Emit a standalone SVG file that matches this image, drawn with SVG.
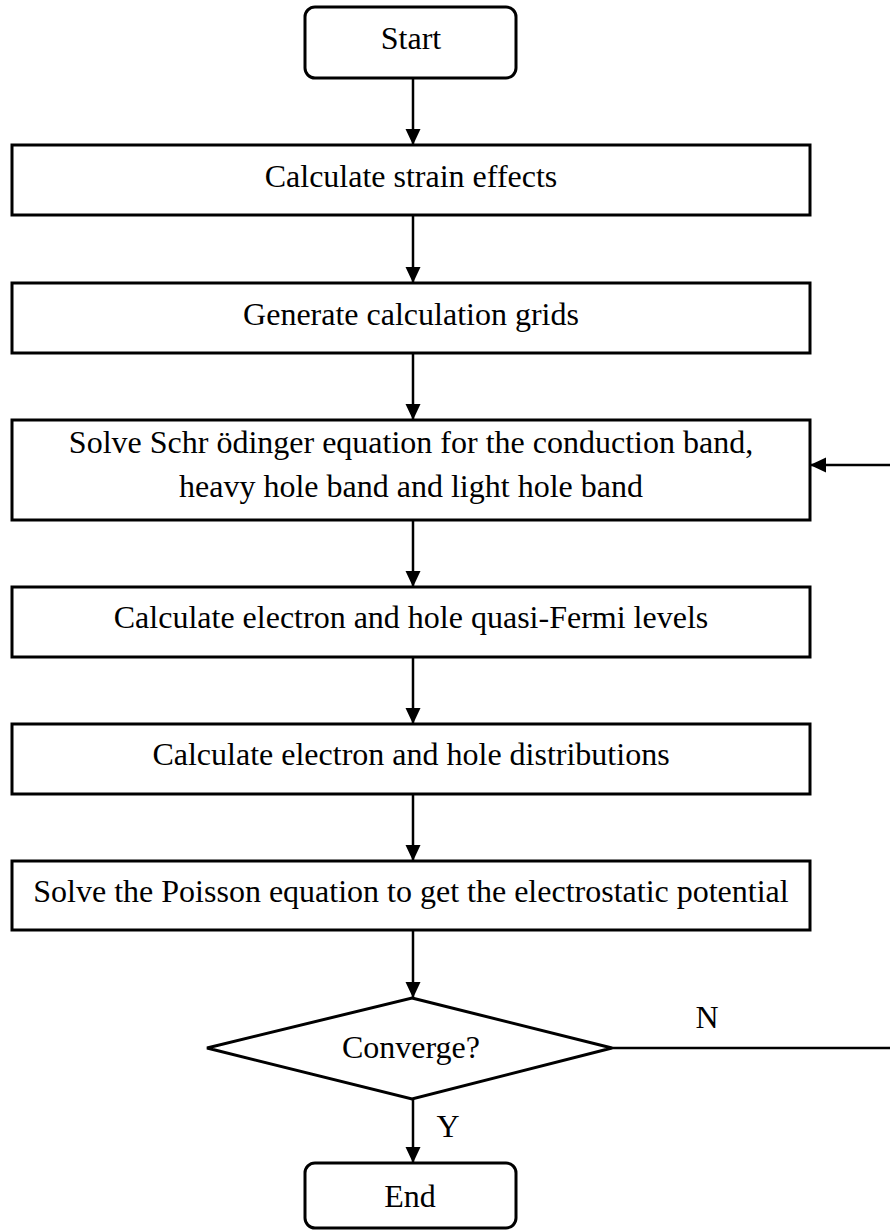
<svg xmlns="http://www.w3.org/2000/svg" width="890" height="1231" viewBox="0 0 890 1231">
<style>
  .box { fill: #ffffff; stroke: #000000; stroke-width: 3; }
  .lbl { font-family: "Liberation Serif", "Times New Roman", serif; font-size: 32px; fill: #000000; text-anchor: middle; }
  .con { fill: none; stroke: #000000; stroke-width: 2.5; }
</style>
<defs>
  <marker id="arr" markerUnits="userSpaceOnUse" markerWidth="16" markerHeight="16" refX="16" refY="7.5" orient="auto">
    <path d="M0,0 L16,7.5 L0,15 Z" fill="#000000"/>
  </marker>
</defs>
<rect width="890" height="1231" fill="#ffffff"/>
<g id="connectors">
  <line class="con" x1="413" y1="78" x2="413" y2="145" marker-end="url(#arr)"/>
  <line class="con" x1="413" y1="215" x2="413" y2="283" marker-end="url(#arr)"/>
  <line class="con" x1="413" y1="353" x2="413" y2="420" marker-end="url(#arr)"/>
  <line class="con" x1="413" y1="520" x2="413" y2="587" marker-end="url(#arr)"/>
  <line class="con" x1="413" y1="657" x2="413" y2="724" marker-end="url(#arr)"/>
  <line class="con" x1="413" y1="794" x2="413" y2="861" marker-end="url(#arr)"/>
  <line class="con" x1="413" y1="930" x2="413" y2="998" marker-end="url(#arr)"/>
  <line class="con" x1="413" y1="1099" x2="413" y2="1163" marker-end="url(#arr)"/>
  <path class="con" d="M612,1048 L892,1048 L892,465 L810,465" marker-end="url(#arr)"/>
  <text class="lbl" x="707" y="1028">N</text>
  <text class="lbl" x="448" y="1137">Y</text>
</g>
<g id="start">
  <rect class="box" x="305" y="7" width="211" height="71" rx="10"/>
  <text class="lbl" x="411" y="49">Start</text>
</g>
<g id="strain">
  <rect class="box" x="12" y="145" width="798" height="70"/>
  <text class="lbl" x="411" y="187">Calculate strain effects</text>
</g>
<g id="grids">
  <rect class="box" x="12" y="283" width="798" height="70"/>
  <text class="lbl" x="411" y="325">Generate calculation grids</text>
</g>
<g id="schrodinger">
  <rect class="box" x="12" y="420" width="798" height="100"/>
  <text class="lbl" x="411" y="453">Solve Schr ödinger equation for the conduction band,</text>
  <text class="lbl" x="411" y="497">heavy hole band and light hole band</text>
</g>
<g id="fermi">
  <rect class="box" x="12" y="587" width="798" height="70"/>
  <text class="lbl" x="411" y="628">Calculate electron and hole quasi-Fermi levels</text>
</g>
<g id="distributions">
  <rect class="box" x="12" y="724" width="798" height="70"/>
  <text class="lbl" x="411" y="765">Calculate electron and hole distributions</text>
</g>
<g id="poisson">
  <rect class="box" x="12" y="861" width="798" height="69"/>
  <text class="lbl" x="411" y="902">Solve the Poisson equation to get the electrostatic potential</text>
</g>
<g id="converge">
  <polygon class="box" points="412,998 612,1048 412,1099 207,1048"/>
  <text class="lbl" x="411" y="1058">Converge?</text>
</g>
<g id="end">
  <rect class="box" x="305" y="1163" width="211" height="65" rx="10"/>
  <text class="lbl" x="410" y="1207">End</text>
</g>
</svg>
